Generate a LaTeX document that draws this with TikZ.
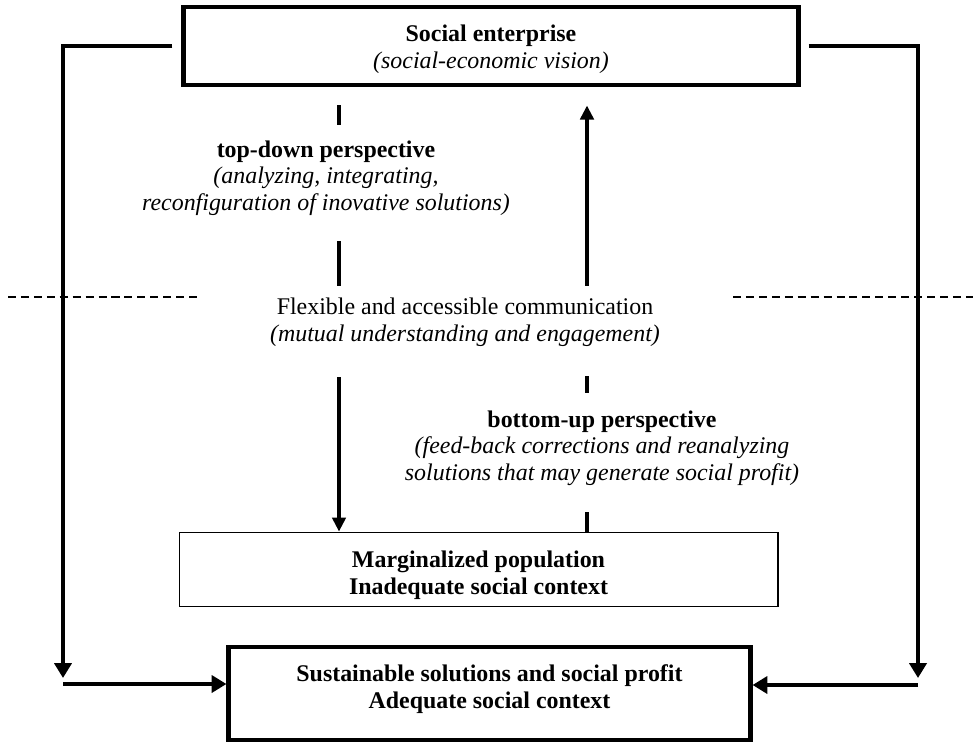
\documentclass[tikz,border=0pt]{standalone}
\usepackage{fontspec}
\setmainfont{Liberation Serif}
\usetikzlibrary{arrows.meta,positioning,calc}

\begin{document}
\begin{tikzpicture}[x=0.025cm,y=-0.025cm,
  font=\fontsize{17}{19}\selectfont,
  box/.style={draw,line width=3.5pt,inner sep=0pt},
  thinbox/.style={draw,line width=1.3pt,inner sep=0pt},
  lbl/.style={align=center,inner sep=1pt},
  outer/.style={-{Triangle[length=10.5pt,width=12pt]},line width=3.5pt},
  arr/.style={-{Triangle[length=10pt,width=9.5pt]},line width=2.5pt},
  seg/.style={line width=2.5pt},
  sep/.style={line width=1.8pt,dash pattern=on 5.7pt off 3.5pt}]
\useasboundingbox (0,0) rectangle (973,744);

% boxes
\node[box,minimum width=15.35cm,minimum height=1.95cm] (ent) at (491,46) {};
\node[thinbox,minimum width=14.95cm,minimum height=1.85cm] (mar) at (478.5,569.5) {};
\node[box,minimum width=13.025cm,minimum height=2.325cm] (sus) at (489.5,693.5) {};

\node[lbl] (enttxt) at (491,49)
  {\textbf{Social enterprise}\\\textit{(social-economic vision)}};
\node[lbl] (martxt) at (478.5,575.5)
  {\textbf{Marginalized population}\\\textbf{Inadequate social context}};
\node[lbl] (sustxt) at (489.5,689)
  {\textbf{Sustainable solutions and social profit}\\\textbf{Adequate social context}};

% labels
\node[lbl] (td) at (326,178) {\textbf{top-down perspective}\\
  \textit{(analyzing, integrating,}\\\textit{reconfiguration of inovative solutions)}};
\node[lbl] (com) at (465,322.5) {Flexible and accessible communication\\
  \textit{(mutual understanding and engagement)}};
\node[lbl] (bu) at (602,448) {\textbf{bottom-up perspective}\\
  \textit{(feed-back corrections and reanalyzing}\\\textit{solutions that may generate social profit)}};

\coordinate (lx) at (339,0); \coordinate (rx) at (587,0);
\coordinate (lc) at (63,684); \coordinate (rc) at (918,685);

% separators
\draw[sep] (8,297) -- (202,297);
\draw[sep] (733,297) -- (973,297);

% top-down line
\draw[seg] (ent.south-|lx) ++(0,18) -- ++(0,20);
\draw[seg] (com.north-|lx) ++(0,-11) -- ++(0,-45);
\draw[arr] (com.south-|lx) ++(0,29) -- (mar.north-|lx);

% bottom-up line
\draw[arr] (com.north-|rx) ++(0,-11) -- ($(ent.south-|rx)+(0,18)$);
\draw[seg] (com.south-|rx) ++(0,28) -- ++(0,17);
\draw[seg] (mar.north-|rx) -- ++(0,-20);

% outer loops
\draw[outer] ([xshift=-0.225cm]ent.west) -| ([yshift=0.15cm]lc);
\draw[outer] (lc) -- (sus.west|-lc);
\draw[outer] ([xshift=0.2cm]ent.east) -| ([yshift=0.175cm]rc);
\draw[outer] (rc) -- (sus.east|-rc);
\end{tikzpicture}
\end{document}
